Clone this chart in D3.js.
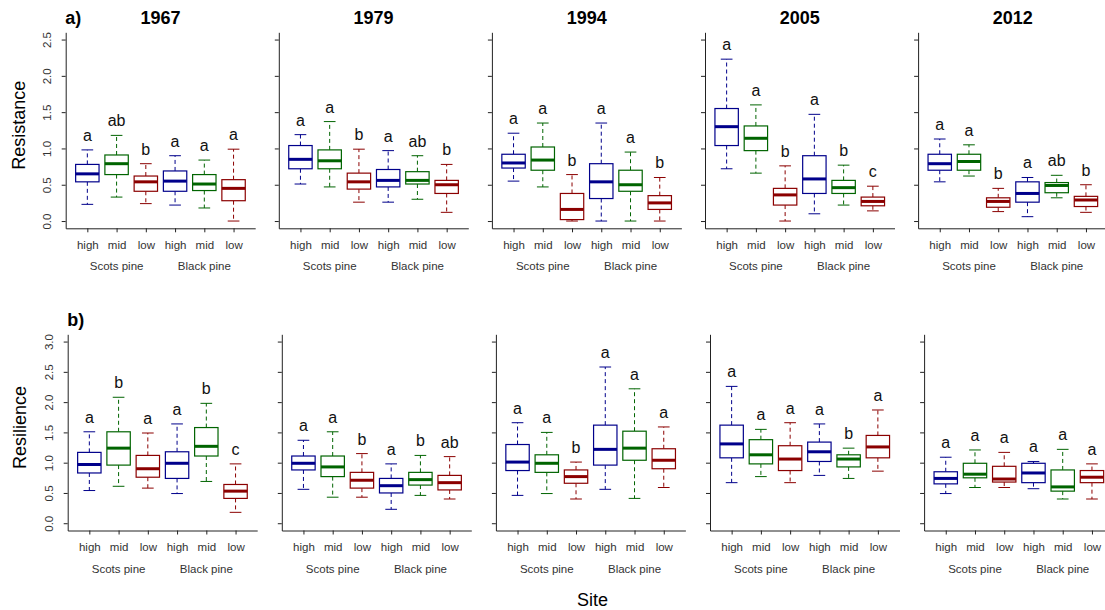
<!DOCTYPE html>
<html>
<head>
<meta charset="utf-8">
<script src="https://cdn.jsdelivr.net/npm/d3@7"></script>
<style>
  body { margin: 0; background: #fff; }
  svg text { font-family: "Liberation Sans", Arial, sans-serif; }
</style>
</head>
<body>
<svg id="chart" width="1105" height="610"></svg>
<script>
// years, sites and species
var years = ["1967", "1979", "1994", "2005", "2012"];
var sites = ["high", "mid", "low", "high", "mid", "low"];
var species = ["Scots pine", "Black pine"];
var siteColors = ["#00008b", "#006400", "#8b0000"];

// box stats per year: [lower whisker, Q1, median, Q3, upper whisker]
var resistance = [
  [[0.23, 0.54, 0.65, 0.78, 0.98], [0.33, 0.64, 0.79, 0.91, 1.18], [0.24, 0.41, 0.54, 0.62, 0.79],
   [0.22, 0.41, 0.55, 0.69, 0.90], [0.18, 0.42, 0.51, 0.64, 0.84], [0.00, 0.28, 0.45, 0.57, 0.99]],
  [[0.51, 0.72, 0.85, 1.04, 1.19], [0.47, 0.72, 0.83, 0.98, 1.37], [0.26, 0.44, 0.54, 0.66, 0.99],
   [0.26, 0.47, 0.56, 0.71, 0.97], [0.30, 0.51, 0.56, 0.68, 0.90], [0.12, 0.38, 0.50, 0.56, 0.78]],
  [[0.55, 0.73, 0.80, 0.92, 1.21], [0.47, 0.70, 0.84, 1.02, 1.35], [0.00, 0.02, 0.16, 0.38, 0.64],
   [0.00, 0.31, 0.54, 0.79, 1.35], [0.00, 0.41, 0.50, 0.70, 0.95], [0.00, 0.16, 0.25, 0.35, 0.60]],
  [[0.72, 1.04, 1.30, 1.55, 2.23], [0.66, 0.97, 1.14, 1.31, 1.60], [0.00, 0.22, 0.36, 0.45, 0.76],
   [0.10, 0.38, 0.58, 0.90, 1.47], [0.22, 0.38, 0.46, 0.56, 0.77], [0.14, 0.21, 0.27, 0.33, 0.48]],
  [[0.54, 0.70, 0.79, 0.92, 1.13], [0.62, 0.70, 0.82, 0.92, 1.05], [0.13, 0.19, 0.27, 0.32, 0.45],
   [0.06, 0.26, 0.38, 0.54, 0.60], [0.32, 0.39, 0.49, 0.53, 0.63], [0.12, 0.20, 0.29, 0.34, 0.50]]
];
var resistanceLetters = [
  ["a", "ab", "b", "a", "a", "a"],
  ["a", "a", "b", "a", "ab", "b"],
  ["a", "a", "b", "a", "a", "b"],
  ["a", "a", "b", "a", "b", "c"],
  ["a", "a", "b", "a", "ab", "b"]
];

var resilience = [
  [[0.54, 0.83, 0.97, 1.17, 1.51], [0.61, 0.96, 1.24, 1.51, 2.08], [0.58, 0.76, 0.90, 1.12, 1.49],
   [0.49, 0.74, 0.99, 1.18, 1.64], [0.69, 1.11, 1.27, 1.58, 1.98], [0.18, 0.41, 0.53, 0.64, 0.98]],
  [[0.56, 0.88, 0.99, 1.11, 1.37], [0.43, 0.77, 0.93, 1.11, 1.51], [0.43, 0.58, 0.71, 0.84, 1.15],
   [0.23, 0.50, 0.62, 0.74, 0.98], [0.46, 0.63, 0.72, 0.84, 1.12], [0.40, 0.55, 0.67, 0.79, 1.10]],
  [[0.46, 0.87, 1.01, 1.30, 1.66], [0.49, 0.84, 0.99, 1.13, 1.50], [0.40, 0.66, 0.77, 0.88, 1.01],
   [0.56, 0.96, 1.22, 1.62, 2.58], [0.41, 1.04, 1.24, 1.52, 2.22], [0.59, 0.90, 1.04, 1.23, 1.59]],
  [[0.67, 1.08, 1.31, 1.62, 2.26], [0.77, 0.98, 1.13, 1.38, 1.55], [0.67, 0.87, 1.06, 1.28, 1.66],
   [0.79, 1.02, 1.18, 1.34, 1.64], [0.74, 0.93, 1.06, 1.13, 1.24], [0.86, 1.08, 1.26, 1.45, 1.87]],
  [[0.49, 0.65, 0.74, 0.85, 1.09], [0.59, 0.75, 0.81, 0.99, 1.21], [0.59, 0.68, 0.73, 0.94, 1.17],
   [0.57, 0.67, 0.83, 0.99, 1.02], [0.40, 0.53, 0.60, 0.88, 1.22], [0.40, 0.67, 0.76, 0.87, 0.98]]
];
var resilienceLetters = [
  ["a", "b", "a", "a", "b", "c"],
  ["a", "a", "b", "a", "b", "ab"],
  ["a", "a", "b", "a", "a", "a"],
  ["a", "a", "a", "a", "b", "a"],
  ["a", "a", "a", "a", "a", "a"]
];

var resistanceTicks = [0, 0.5, 1.0, 1.5, 2.0, 2.5];
var resilienceTicks = [0, 0.5, 1.0, 1.5, 2.0, 2.5, 3.0];

var svg = d3.select("#chart");
var panelWidth = 189.5;

var rows = [
  { stats: resistance, letters: resistanceLetters, ticks: resistanceTicks, ymax: 2.5,
    left0: 65.7, step: 213.1, top: 32.3, bottom: 228.3, tag: "a)", label: "Resistance", labelX: 25, titles: true },
  { stats: resilience, letters: resilienceLetters, ticks: resilienceTicks, ymax: 3.0,
    left0: 67.7, step: 214.1, top: 334.3, bottom: 530.5, tag: "b)", label: "Resilience", labelX: 26, titles: false }
];

rows.forEach(function(row) {
  var pad = row.ymax * 0.04;
  var y = d3.scaleLinear()
    .domain([-pad, row.ymax + pad])
    .range([row.bottom, row.top]);

  years.forEach(function(year, p) {
    var left = row.left0 + p * row.step;
    var x = d3.scaleLinear()
      .domain([0.26, 6.74])
      .range([left, left + panelWidth]);
    var g = svg.append("g");

    // y axis
    var yAxis = g.append("g")
      .attr("transform", `translate(${left},0)`)
      .call(d3.axisLeft(y)
        .tickValues(row.ticks)
        .tickSize(4)
        .tickSizeOuter(0)
        .tickFormat(p === 0 ? d3.format(".1f") : ""));
    yAxis.selectAll("text")
      .attr("x", null)
      .attr("dy", null)
      .attr("transform", "translate(-15,0) rotate(-90)")
      .attr("text-anchor", "middle")
      .attr("font-size", "11.5px")
      .attr("fill", "#333");

    // x axis
    var xAxis = g.append("g")
      .attr("transform", `translate(0,${row.bottom})`)
      .call(d3.axisBottom(x)
        .tickValues([1, 2, 3, 4, 5, 6])
        .tickSize(4)
        .tickSizeOuter(0)
        .tickFormat((d, i) => sites[i]));
    xAxis.selectAll("text")
      .attr("y", 20.7)
      .attr("dy", null)
      .attr("font-size", "11.5px")
      .attr("fill", "#333");
    g.selectAll(".domain").attr("stroke", "#222");
    g.selectAll(".tick line").attr("stroke", "#222");

    g.selectAll(".species")
      .data(species)
      .enter()
      .append("text")
      .attr("x", (d, i) => x(2 + i * 3))
      .attr("y", row.bottom + 42)
      .attr("text-anchor", "middle")
      .attr("font-size", "11.5px")
      .attr("fill", "#333")
      .text(d => d);

    // boxes
    var boxes = g.selectAll(".box")
      .data(row.stats[p])
      .enter()
      .append("g");

    var bw = 0.4, sw = 0.2;
    boxes.each(function(d, i) {
      var b = d3.select(this);
      var pos = i + 1;
      var col = siteColors[i % 3];
      // whiskers
      b.append("line")
        .attr("x1", x(pos)).attr("x2", x(pos))
        .attr("y1", y(d[3])).attr("y2", y(d[4]))
        .attr("stroke", col).attr("stroke-dasharray", "4,3");
      b.append("line")
        .attr("x1", x(pos)).attr("x2", x(pos))
        .attr("y1", y(d[1])).attr("y2", y(d[0]))
        .attr("stroke", col).attr("stroke-dasharray", "4,3");
      // staples
      [d[0], d[4]].forEach(function(v) {
        b.append("line")
          .attr("x1", x(pos - sw)).attr("x2", x(pos + sw))
          .attr("y1", y(v)).attr("y2", y(v))
          .attr("stroke", col);
      });
      // box
      b.append("rect")
        .attr("x", x(pos - bw))
        .attr("y", y(d[3]))
        .attr("width", x(pos + bw) - x(pos - bw))
        .attr("height", y(d[1]) - y(d[3]))
        .attr("fill", "white")
        .attr("stroke", col)
        .attr("stroke-width", 1.2);
      // median
      b.append("line")
        .attr("x1", x(pos - bw)).attr("x2", x(pos + bw))
        .attr("y1", y(d[2])).attr("y2", y(d[2]))
        .attr("stroke", col)
        .attr("stroke-width", 3);
      // letter
      b.append("text")
        .attr("x", x(pos))
        .attr("y", y(d[4]) - 9)
        .attr("text-anchor", "middle")
        .attr("font-size", "16px")
        .attr("fill", "#111")
        .text(row.letters[p][i]);
    });

    if (row.titles) {
      g.append("text")
        .attr("x", left + panelWidth / 2)
        .attr("y", 24)
        .attr("text-anchor", "middle")
        .attr("font-size", "18px")
        .attr("font-weight", "bold")
        .text(year);
    }
  });

  svg.append("text")
    .attr("x", row.left0 - 0.5)
    .attr("y", row.top - 8.3)
    .attr("font-size", "18px")
    .attr("font-weight", "bold")
    .text(row.tag);

  svg.append("text")
    .attr("transform", `translate(${row.labelX},${(row.top + row.bottom) / 2 - 5}) rotate(-90)`)
    .attr("text-anchor", "middle")
    .attr("font-size", "18px")
    .text(row.label);
});

svg.append("text")
  .attr("x", 592.5)
  .attr("y", 605.5)
  .attr("text-anchor", "middle")
  .attr("font-size", "18px")
  .text("Site");
</script>
</body>
</html>
